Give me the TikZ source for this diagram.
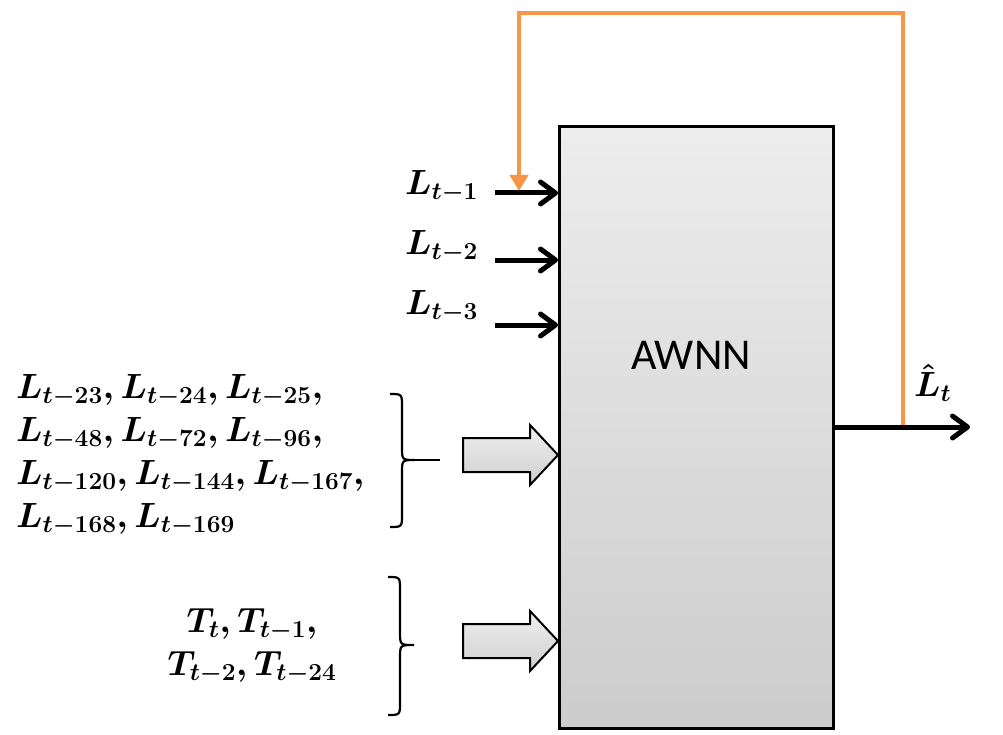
\RequirePackage{fix-cm}
\documentclass[tikz,border=0pt]{standalone}
\usepackage{fontspec}
\newfontfamily\carlito{Carlito}
\usetikzlibrary{arrows.meta,positioning,calc}
\definecolor{fbkorange}{RGB}{247,150,70}

\begin{document}
\begin{tikzpicture}[
  x=1pt, y=-1pt,
  every node/.style = {font=\fontsize{35}{43}\selectfont\boldmath, inner sep=0pt},
  awnnbox/.style  = {rectangle, draw, line width=3pt, top color=gray!14,
                     bottom color=gray!40, minimum width=274pt,
                     minimum height=602pt},
  inarr/.style    = {-{Straight Barb[length=15pt,width=22pt,round]}, line width=5pt},
  fbarr/.style    = {-{Triangle[length=16pt,width=18pt]}, line width=4.5pt,
                     draw=fbkorange},
  blockarr/.style = {draw, line width=2pt, top color=gray!12,
                     bottom color=gray!38, line join=miter},
  bracepath/.style = {line width=2.2pt},
]
\useasboundingbox (0,0) rectangle (1003,735);

% main block
\node[awnnbox, anchor=north west] (awnn) at (558,125) {};
\node[font=\carlito\fontsize{44}{50}\selectfont] (awnntxt) at (691,355) {AWNN};

% single lagged inputs
\coordinate (lin1) at (495,193);
\coordinate (lin2) at (495,260);
\coordinate (lin3) at (495,325);
\node[anchor=west] (lab1) at (405,187) {$L_{t-1}$};
\node[anchor=west] (lab2) at (405,247) {$L_{t-2}$};
\node[anchor=west] (lab3) at (405,307) {$L_{t-3}$};
\draw[inarr] (lin1) -- (awnn.west |- lin1);
\draw[inarr] (lin2) -- (awnn.west |- lin2);
\draw[inarr] (lin3) -- (awnn.west |- lin3);

% grouped inputs
\node[align=left, anchor=west] (lagset) at (16,455)
  {$L_{t-23}, L_{t-24}, L_{t-25},$\\
   $L_{t-48}, L_{t-72}, L_{t-96},$\\
   $L_{t-120}, L_{t-144}, L_{t-167},$\\
   $L_{t-168}, L_{t-169}$};
\node[align=center] (tempset) at (252,646)
  {$T_t, T_{t-1},$\\ $T_{t-2}, T_{t-24}$};

% braces
\draw[bracepath] (390,394) .. controls (402,394) .. (402,407) -- (402,447)
  .. controls (402,460) .. (415,460) coordinate (brtip1)
  .. controls (402,460) .. (402,473) -- (402,514)
  .. controls (402,527) .. (390,527);
\draw[bracepath] (brtip1) -- (440,460);
\draw[bracepath] (388,577) .. controls (400,577) .. (400,590) -- (400,632)
  .. controls (400,645) .. (414,645) coordinate (brtip2)
  .. controls (400,645) .. (400,658) -- (400,702)
  .. controls (400,715) .. (388,715);

% block arrows into AWNN
\coordinate (bin1) at (awnn.west |- 0,455);
\coordinate (bin2) at (awnn.west |- 0,641);
\draw[blockarr] (bin1) -- ++(-28,-30) -- ++(0,13) -- ++(-67,0) -- ++(0,34)
  -- ++(67,0) -- ++(0,13) -- cycle;
\draw[blockarr] (bin2) -- ++(-28,-30) -- ++(0,13) -- ++(-67,0) -- ++(0,34)
  -- ++(67,0) -- ++(0,13) -- cycle;

% output and feedback
\coordinate (lout) at (970,427);
\coordinate (fbk) at (903,427);
\coordinate (fbin) at (519,191);
\node[anchor=south west] (lhat) at (914,402) {$\hat{L}_t$};
\draw[fbarr] (fbk) -- ++(0,-414) -| (fbin);
\draw[inarr] (awnn.east |- lout) -- (lout);

\end{tikzpicture}
\end{document}
